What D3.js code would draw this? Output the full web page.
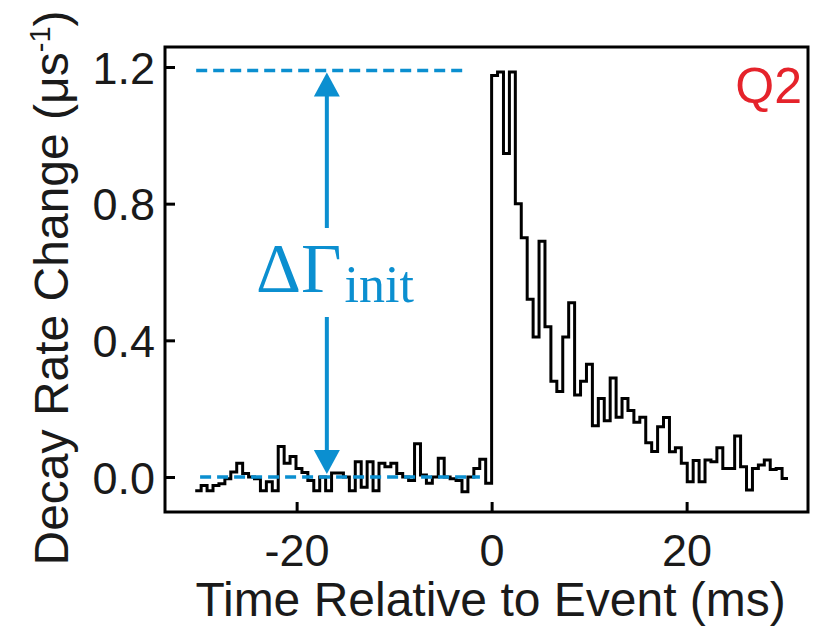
<!DOCTYPE html>
<head>
  <meta charset="utf-8">
  <title>Decay rate change around event</title>
  <style>
    body { margin: 0; background: #fff; }
    text { font-family: "Liberation Sans", Arial, Helvetica, sans-serif; }
  </style>
</head>
<body>
<svg width="831" height="628"></svg>

<script src="https://cdn.jsdelivr.net/npm/d3@7"></script>
<script>

  // histogram bins: 50 before the event, 50 after (ms)
  const tStart = -30.4;
  const binWidth = 0.608;

  const preEvent = [
    -0.04, -0.025, -0.04, -0.025, -0.02, -0.005, 0.015, 0.04, 0.01, 0.0,
    -0.005, -0.04, -0.014, -0.04, 0.089, 0.04, 0.06, 0.025, 0.013, -0.01,
    -0.04, 0.0, -0.04, 0.012, 0.012, 0.0, -0.04, 0.045, -0.03, 0.045,
    -0.04, 0.04, 0.03, 0.04, 0.01, 0.0, -0.01, 0.097, 0.006, -0.018,
    0.0, 0.055, 0.0, -0.005, -0.01, -0.043, 0.0, 0.025, 0.052, -0.018
  ];
  const postEvent = [
    1.175, 1.185, 0.947, 1.185, 0.80, 0.70, 0.52, 0.41, 0.69, 0.44,
    0.28, 0.25, 0.41, 0.51, 0.24, 0.28, 0.33, 0.15, 0.23, 0.165,
    0.29, 0.175, 0.23, 0.195, 0.16, 0.175, 0.10, 0.075, 0.147, 0.174,
    0.074, 0.086, 0.04, -0.014, 0.048, -0.014, 0.05, 0.045, 0.086, 0.025,
    0.025, 0.12, 0.03, -0.038, 0.025, 0.035, 0.05, 0.022, 0.025, -0.004
  ];

  const xTicks = [-20, 0, 20];
  const yTicks = [0, 0.4, 0.8, 1.2];

  // annotation: initial jump
  const deltaInit = 1.19;
  const topDash = [-30.3, -3.0];
  const baseDash = [-29.9, -1.2];
  const arrowT = -16.9;

  const blue = "#0b8fd0";
  const red = "#e5232b";

  const svg = d3.select("svg");
  const margin = {top: 47, right: 23, bottom: 116, left: 165};
  const width = +svg.attr("width") - margin.left - margin.right,
        height = +svg.attr("height") - margin.top - margin.bottom;

  const x = d3.scaleLinear().domain([-33.5, 32.45]).range([0, width]);
  const y = d3.scaleLinear().domain([-0.1024, 1.2585]).range([height, 0]);

  const g = svg.append("g").attr("transform", `translate(${margin.left},${margin.top})`);

  // step data
  const values = preEvent.concat(postEvent);
  const steps = values.map((v, i) => ({t: tStart + i * binWidth, v: v}));
  steps.push({t: tStart + values.length * binWidth, v: values[values.length - 1]});

  const line = d3.line()
    .x(d => x(d.t))
    .y(d => y(d.v))
    .curve(d3.curveStepAfter);

  g.append("path")
    .datum(steps)
    .attr("fill", "none")
    .attr("stroke", "#000")
    .attr("stroke-width", 3)
    .attr("stroke-linejoin", "miter")
    .attr("d", line);

  // dashed reference lines
  g.append("line")
    .attr("x1", x(topDash[0])).attr("x2", x(topDash[1]))
    .attr("y1", y(deltaInit)).attr("y2", y(deltaInit))
    .attr("stroke", blue).attr("stroke-width", 3.5).attr("stroke-dasharray", "11,6");
  g.append("line")
    .attr("x1", x(baseDash[0])).attr("x2", x(baseDash[1]))
    .attr("y1", y(0)).attr("y2", y(0))
    .attr("stroke", blue).attr("stroke-width", 3.5).attr("stroke-dasharray", "11,6");

  // double arrow with gap for the label
  const ax = x(arrowT);
  const yTop = y(deltaInit) + 2, yBot = y(0) - 3;
  const headH = 24, headW = 13;
  g.append("line").attr("x1", ax).attr("x2", ax)
    .attr("y1", yTop + headH - 1).attr("y2", 181)
    .attr("stroke", blue).attr("stroke-width", 4);
  g.append("line").attr("x1", ax).attr("x2", ax)
    .attr("y1", 270).attr("y2", yBot - headH + 1)
    .attr("stroke", blue).attr("stroke-width", 4);
  g.append("path")
    .attr("d", `M${ax},${yTop} L${ax - headW},${yTop + headH} L${ax + headW},${yTop + headH} Z`)
    .attr("fill", blue);
  g.append("path")
    .attr("d", `M${ax},${yBot} L${ax - headW},${yBot - headH} L${ax + headW},${yBot - headH} Z`)
    .attr("fill", blue);

  const lbl = g.append("text")
    .attr("x", 256 - margin.left)
    .attr("y", 292 - margin.top)
    .attr("fill", blue)
    .style("font-family", "'Liberation Serif', 'DejaVu Serif', serif")
    .style("font-size", "70px");
  lbl.append("tspan").text("ΔΓ");
  lbl.append("tspan").attr("dy", 10).attr("dx", 3).style("font-size", "52px").text("init");

  // frame
  g.append("rect")
    .attr("width", width).attr("height", height)
    .attr("fill", "none").attr("stroke", "#000").attr("stroke-width", 3);

  // axes with inward ticks
  const xAxis = g.append("g")
    .attr("transform", `translate(0,${height})`)
    .call(d3.axisBottom(x).tickValues(xTicks).tickSizeInner(-10).tickSizeOuter(0).tickPadding(22).tickFormat(d => String(d)));
  const yAxis = g.append("g")
    .call(d3.axisLeft(y).tickValues(yTicks).tickSizeInner(-10).tickSizeOuter(0).tickPadding(10).tickFormat(d3.format(".1f")));

  [xAxis, yAxis].forEach(a => {
    a.select(".domain").remove();
    a.selectAll(".tick line").attr("stroke", "#000").attr("stroke-width", 3);
    a.selectAll(".tick text")
      .attr("fill", "#1a1a1a")
      .style("font-family", "'Liberation Sans', Arial, sans-serif")
      .style("font-size", "45px");
  });
  xAxis.selectAll(".tick text").attr("dy", "0.71em");
  yAxis.selectAll(".tick text").attr("dy", "0.36em");

  // axis titles
  svg.append("text")
    .attr("x", margin.left + x(0) - 1)
    .attr("y", 616)
    .attr("text-anchor", "middle")
    .attr("fill", "#1a1a1a")
    .style("font-size", "48px")
    .text("Time Relative to Event (ms)");

  const yt = svg.append("text")
    .attr("transform", "translate(68,288) rotate(-90)")
    .attr("text-anchor", "middle")
    .attr("fill", "#1a1a1a")
    .style("font-size", "48px");
  yt.append("tspan").text("Decay Rate Change (μs");
  yt.append("tspan").attr("dy", -18).style("font-size", "29px").text("-1");
  yt.append("tspan").attr("dy", 18).text(")");

  // panel tag
  svg.append("text")
    .attr("x", 802).attr("y", 103)
    .attr("text-anchor", "end")
    .attr("fill", red)
    .style("font-size", "50px")
    .text("Q2");

</script>
</body>
